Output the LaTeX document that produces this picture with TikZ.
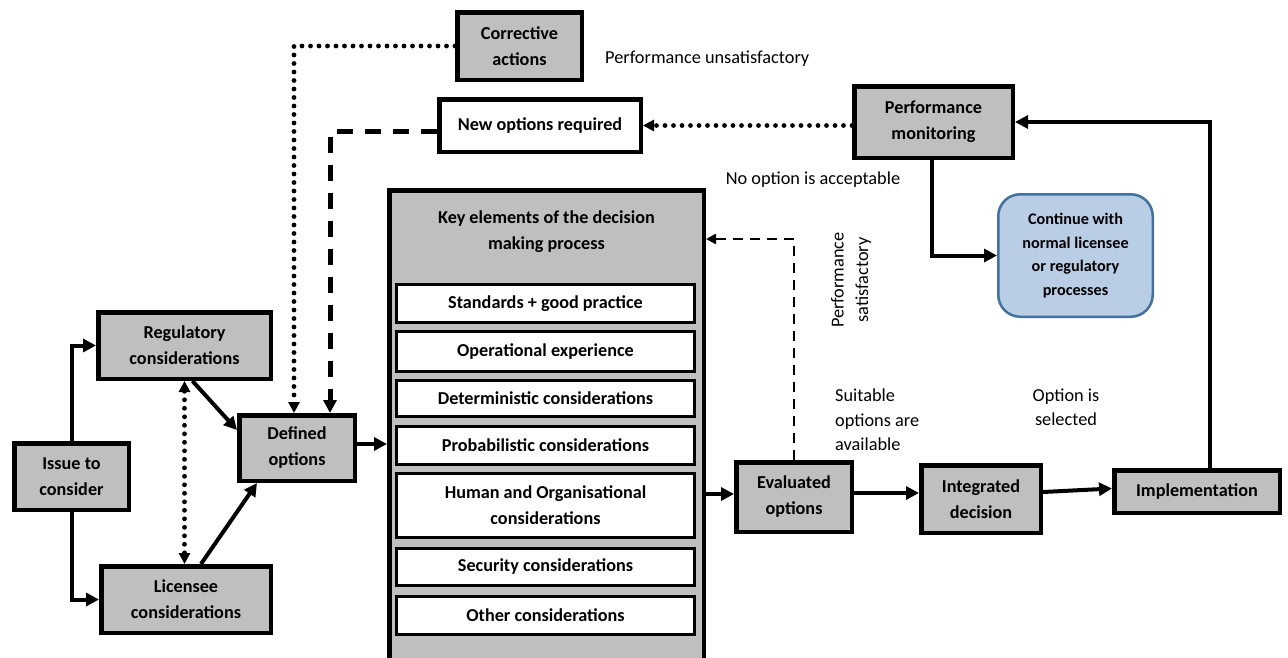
\documentclass[tikz,border=0pt]{standalone}
\usepackage{fontspec}
\setmainfont{Carlito}
\usetikzlibrary{arrows.meta}
\definecolor{boxgray}{RGB}{191,191,191}
\definecolor{contfill}{RGB}{185,205,229}
\definecolor{contdraw}{RGB}{65,113,156}
\begin{document}
\begin{tikzpicture}[x=1pt,y=-1pt,
  lbl/.style={font=\bfseries\fontsize{18.2}{26}\selectfont, align=center},
  gbox/.style={draw=black, fill=boxgray, line width=4.5pt, inner sep=0pt, lbl},
  wbox/.style={draw=black, fill=white, line width=4.5pt, inner sep=0pt, lbl},
  ibox/.style={draw=black, fill=white, line width=3pt, inner sep=0pt, lbl, minimum width=298pt},
  note/.style={font=\fontsize{18.3}{24.5}\selectfont, inner sep=0pt},
  conn/.style={line width=4pt, -{Triangle[length=13pt,width=13pt]}},
  dotconn/.style={line width=4.8pt, line cap=round, dash pattern=on 0pt off 8.5pt, -{Triangle[length=11pt,width=11pt]}},
  dotboth/.style={line width=4.8pt, line cap=round, dash pattern=on 0pt off 8.5pt, {Triangle[length=11pt,width=11pt]}-{Triangle[length=11pt,width=11pt]}},
  bigdash/.style={line width=5pt, dash pattern=on 16pt off 12pt, -{Triangle[length=13pt,width=13pt]}},
  thindash/.style={line width=2.8pt, dash pattern=on 10pt off 7pt, -{Triangle[length=10pt,width=10pt]}}
]
\useasboundingbox (0,0) rectangle (1288,657);
\clip (0,0) rectangle (1288,657);

% key elements box
\node[gbox, minimum width=314.5pt, minimum height=507.5pt] (key) at (546.5,444) {};
\node[lbl] (keyhead) at (546.5,232) {Key elements of the decision\\making process};
\node[ibox, minimum height=38pt] (s1) at (545.5,303.5) {Standards + good practice};
\node[ibox, minimum height=40pt] (s2) at (545.5,351.5) {Operational experience};
\node[ibox, minimum height=36pt] (s3) at (545.5,398.5) {Deterministic considerations};
\node[ibox, minimum height=38pt] (s4) at (545.5,445.5) {Probabilistic considerations};
\node[ibox, minimum height=64pt] (s5) at (545.5,505.5) {Human and Organisational\\considerations};
\node[ibox, minimum height=37pt] (s6) at (545.5,567) {Security considerations};
\node[ibox, minimum height=38pt] (s7) at (545.5,615.5) {Other considerations};

% boxes
\node[gbox, minimum width=124.5pt, minimum height=67.5pt] (corr) at (519.5,46) {Corrective\\actions};
\node[wbox, minimum width=201.5pt, minimum height=52.5pt] (newopt) at (540,125.5) {New options required};
\node[gbox, minimum width=158.5pt, minimum height=71.5pt] (perf) at (933.5,122) {Performance\\monitoring};
\node[gbox, minimum width=172.5pt, minimum height=66.5pt] (reg) at (184.5,345.5) {Regulatory\\considerations};
\node[gbox, minimum width=114.5pt, minimum height=66.5pt] (issue) at (71.5,476.5) {Issue to\\consider};
\node[gbox, minimum width=169.5pt, minimum height=66.5pt] (lic) at (186,599.5) {Licensee\\considerations};
\node[gbox, minimum width=115.5pt, minimum height=65.5pt] (def) at (297,448) {Defined\\options};
\node[gbox, minimum width=115.5pt, minimum height=69.5pt] (eval) at (794,497) {Evaluated\\options};
\node[gbox, minimum width=119.5pt, minimum height=67.5pt] (integ) at (981,499) {Integrated\\decision};
\node[gbox, minimum width=165.5pt, minimum height=42.5pt] (impl) at (1197,491.5) {Implementation};
\node[draw=contdraw, fill=contfill, line width=2.5pt, rounded corners=22pt, inner sep=0pt,
      minimum width=154.5pt, minimum height=122.5pt, align=center,
      font=\bfseries\fontsize{16.2}{23.5}\selectfont] (cont) at (1075.5,255.5)
      {Continue with\\normal licensee\\or regulatory\\processes};

% annotations
\node[note, anchor=west] (unsat) at (605,59) {Performance unsatisfactory};
\node[note] (noopt) at (813,180) {No option is acceptable};
\node[note, rotate=90, align=center] (perfsat) at (851,280) {Performance\\satisfactory};
\node[note, anchor=west, align=left] (suit) at (835,420) {Suitable\\options are\\available};
\node[note, align=center] (optsel) at (1066,407) {Option is\\selected};

% connectors
\draw[conn] (issue.north) |- (reg.west);
\draw[conn] (issue.south) |- (lic.west);
\draw[conn] ([xshift=8pt]reg.south) -- ([yshift=18pt]def.west);
\draw[conn] ([xshift=15pt]lic.north) -- ([xshift=-40pt]def.south);
\draw[dotboth] (reg.south) -- (reg.south |- lic.north);
\draw[dotconn] (corr.west) -| ([xshift=-3pt]def.north);
\draw[bigdash] ([yshift=-6pt]newopt.west) -| ([xshift=33pt]def.north);
\draw[conn] ([yshift=4pt]def.east) -- ([yshift=4pt]def.east -| key.west);
\draw[conn] ([yshift=3pt]key.east |- eval.west) -- ([yshift=3pt]eval.west);
\draw[conn] ([yshift=4pt]eval.east) -- ([yshift=6pt]integ.west);
\draw[conn] ([yshift=7pt]integ.east) -- ([yshift=3pt]impl.west);
\draw[conn] ([xshift=13pt]impl.north) |- (perf.east);
\draw[conn] ([xshift=-2pt]perf.south) |- (cont.west);
\draw[dotconn] (newopt.east -| perf.west) -- (newopt.east);
\draw[thindash] (eval.north) |- ([yshift=205pt]key.east);
\end{tikzpicture}
\end{document}
